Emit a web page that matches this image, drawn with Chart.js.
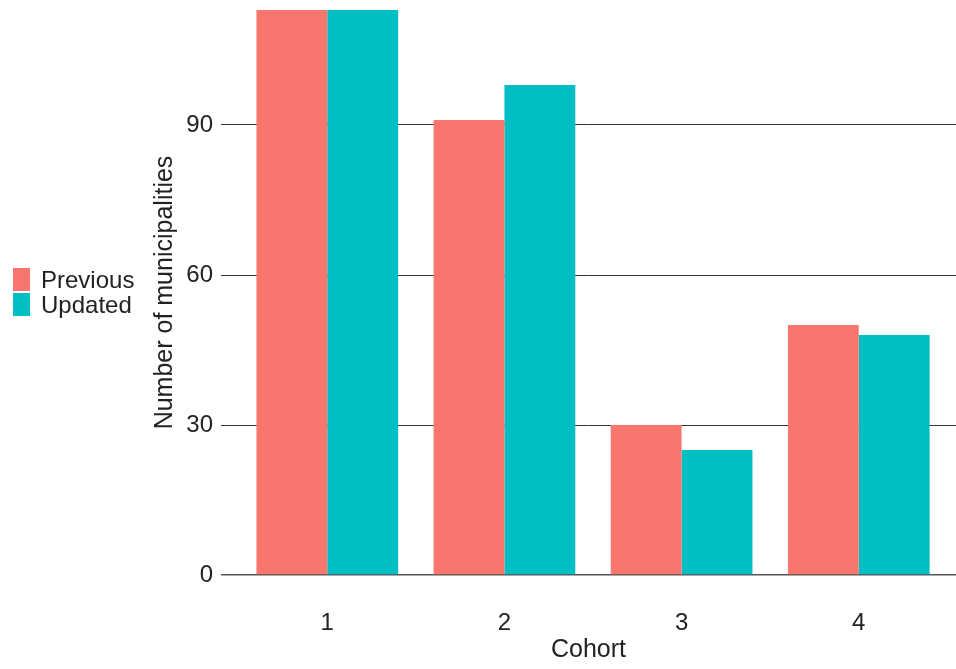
<!DOCTYPE html>
<html>
<head>
<meta charset="utf-8">
<script src="https://cdn.jsdelivr.net/npm/chart.js@4.4.1/dist/chart.umd.min.js"></script>
<style>
  html, body { margin: 0; padding: 0; background: #fff; overflow: hidden; }
  #wrap { width: 956px; height: 669px; position: relative; }
</style>
</head>
<body>
<div id="wrap"><canvas id="chart"></canvas></div>
<script>
// data
var cohorts = ['1', '2', '3', '4'];
var previous = [113, 91, 30, 50];
var updated = [113, 98, 25, 48];
var yTicks = [0, 30, 60, 90];
var seriesNames = ['Previous', 'Updated'];

var FONT = "'Liberation Sans', Arial, sans-serif";

function toPoints(values) {
    return values.map(function (v, i) { return { x: i + 1, y: v }; });
}

// legend on the left, drawn like ggplot's key
var sideLegend = {
    id: 'sideLegend',
    afterDraw: function (chart) {
        var ctx = chart.ctx;
        ctx.save();
        ctx.font = '24px ' + FONT;
        ctx.textBaseline = 'middle';
        ctx.textAlign = 'left';
        chart.data.datasets.forEach(function (ds, i) {
            var top = 268 + i * 25;
            ctx.fillStyle = ds.backgroundColor;
            ctx.fillRect(13, top, 17, 23);
            ctx.fillStyle = '#222';
            ctx.fillText(ds.label, 41, top + 13);
        });
        ctx.restore();
    }
};

var chart = new Chart(document.getElementById('chart'), {
    type: 'bar',
    data: {
        datasets: [
            { label: seriesNames[0], data: toPoints(previous), backgroundColor: '#F8766D' },
            { label: seriesNames[1], data: toPoints(updated), backgroundColor: '#00BFC4' }
        ]
    },
    options: {
        responsive: true,
        maintainAspectRatio: false,
        animation: false,
        layout: { padding: { left: 140, top: 10, right: 0, bottom: 0 } },
        datasets: { bar: { categoryPercentage: 0.8, barPercentage: 1.0, borderWidth: 0 } },
        plugins: { legend: { display: false }, tooltip: { enabled: false } },
        scales: {
            x: {
                type: 'linear',
                min: 0.4,
                max: 4.549,
                offset: false,
                grid: { display: false },
                border: { display: false },
                afterBuildTicks: function (scale) {
                    scale.ticks = cohorts.map(function (c, i) { return { value: i + 1 }; });
                },
                afterFit: function (scale) { scale.height = 94; },
                ticks: {
                    padding: 26,
                    color: '#222',
                    font: { family: FONT, size: 24 },
                    maxRotation: 0,
                    callback: function (v) { return cohorts[v - 1]; }
                },
                title: {
                    display: true,
                    text: 'Cohort',
                    color: '#222',
                    font: { family: FONT, size: 25 },
                    padding: { top: 0, bottom: 4 }
                }
            },
            y: {
                min: 0,
                max: 113,
                border: { display: false },
                grid: {
                    drawTicks: false,
                    color: function (c) { return c.tick.value === 0 ? '#555' : '#333'; },
                    lineWidth: function (c) { return c.tick.value === 0 ? 1.6 : 1; }
                },
                afterBuildTicks: function (scale) {
                    scale.ticks = yTicks.map(function (v) { return { value: v }; });
                },
                afterFit: function (scale) {
                    scale.width = 81;
                    scale.paddingTop = 0;
                    scale.paddingBottom = 0;
                },
                ticks: {
                    padding: 8,
                    color: '#222',
                    font: { family: FONT, size: 24 }
                },
                title: {
                    display: true,
                    text: 'Number of municipalities',
                    color: '#222',
                    font: { family: FONT, size: 25 },
                    padding: { top: 10, bottom: 0 }
                }
            }
        }
    },
    plugins: [sideLegend]
});
</script>
</body>
</html>
